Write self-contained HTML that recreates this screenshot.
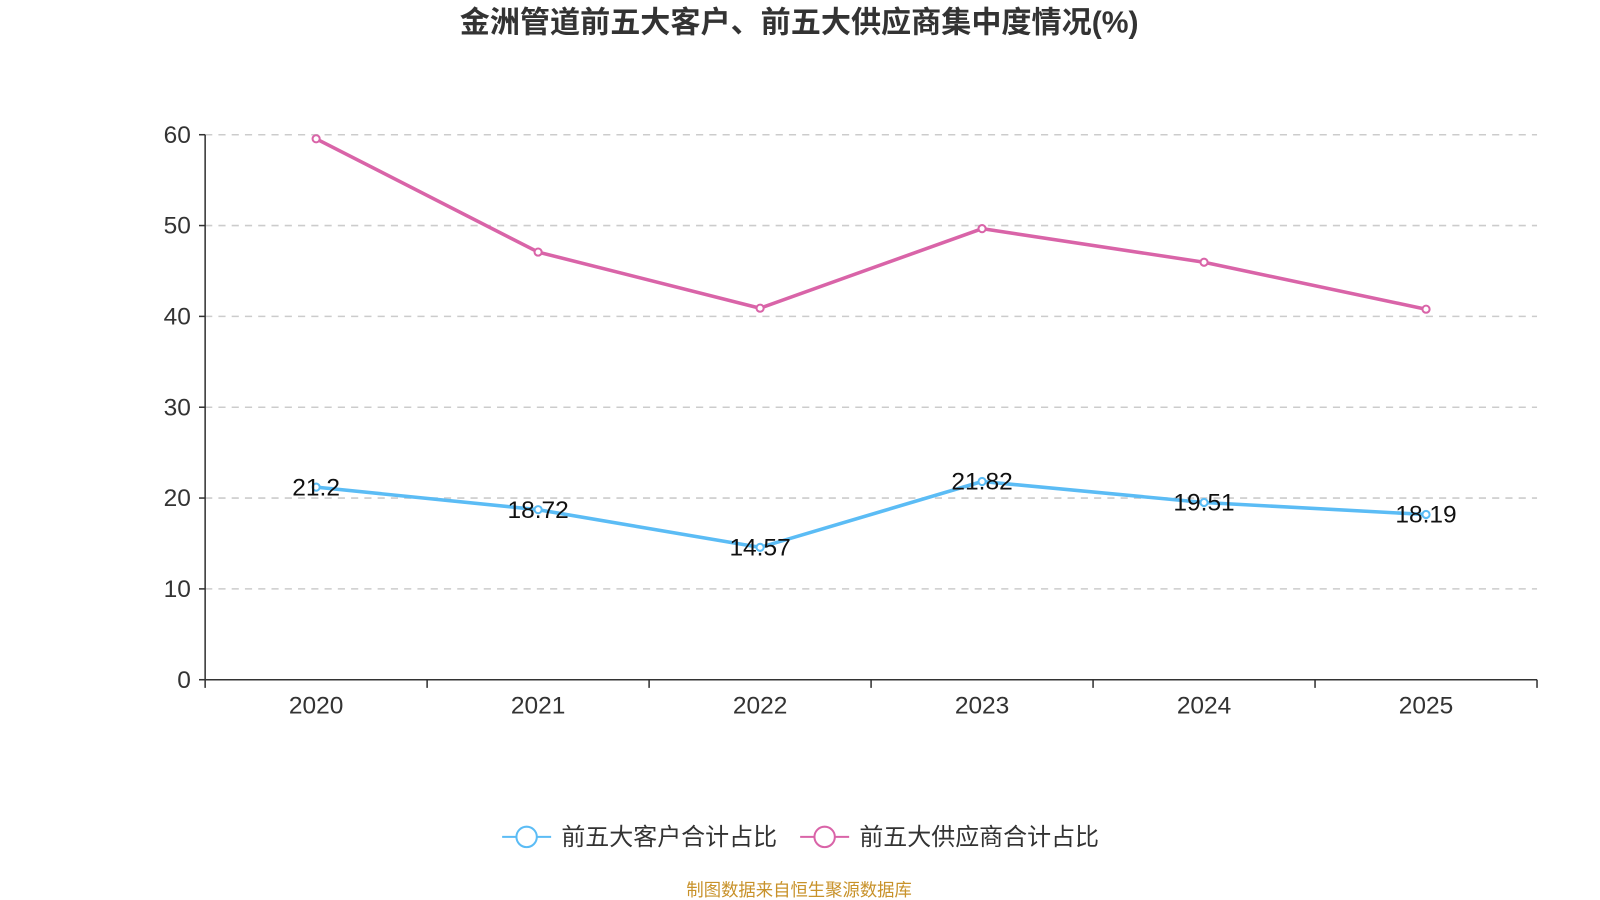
<!DOCTYPE html>
<html><head><meta charset="utf-8">
<style>
html,body{margin:0;padding:0;background:#fff;}
svg{display:block;font-family:"Liberation Sans","Noto Sans CJK SC",sans-serif;}
</style></head>
<body>
<svg id="chart" width="1600" height="900" viewBox="0 0 1600 900">
<g transform="scale(1.0206)">
<text x="783" y="32" text-anchor="middle" font-size="29.5" font-weight="bold" fill="#333">金洲管道前五大客户、前五大供应商集中度情况(%)</text>
<g id="grid"></g>
<g id="axes"></g>
<g id="series"></g>
<g>
<g>
<line x1="492" y1="820" x2="540" y2="820" stroke="#5bbcf5" stroke-width="2"/>
<circle cx="516" cy="820" r="10" fill="#fff" stroke="#5bbcf5" stroke-width="2"/>
<text x="550" y="828" font-size="23.5" fill="#333">前五大客户合计占比</text>
</g>
<g>
<line x1="784" y1="820" x2="832" y2="820" stroke="#d964a8" stroke-width="2"/>
<circle cx="808" cy="820" r="10" fill="#fff" stroke="#d964a8" stroke-width="2"/>
<text x="842" y="828" font-size="23.5" fill="#333">前五大供应商合计占比</text>
</g>
</g>
<text x="783" y="878" text-anchor="middle" font-size="17" fill="#c8922a">制图数据来自恒生聚源数据库</text>
</g>
</svg>
<script>
const categories = ["2020","2021","2022","2023","2024","2025"];
const customers = [21.2, 18.72, 14.57, 21.82, 19.51, 18.19];
const suppliers = [59.55, 47.08, 40.9, 49.66, 45.96, 40.79];
const yTicks = [0,10,20,30,40,50,60];

const NS="http://www.w3.org/2000/svg";
const x0=201,x1=1506,yBase=666,yTop=132,yMax=60;
const band=(x1-x0)/categories.length;
const xPos=i=>x0+band*(i+0.5);
const yPos=v=>yBase-(v/yMax)*(yBase-yTop);
function mk(tag,attrs,parent){const e=document.createElementNS(NS,tag);for(const k in attrs)e.setAttribute(k,attrs[k]);parent.appendChild(e);return e;}
const grid=document.getElementById('grid'),axes=document.getElementById('axes'),series=document.getElementById('series');

yTicks.forEach(t=>{
  const y=yPos(t);
  if(t>0){const g=mk('line',{x1:x0,x2:x1,y1:y,y2:y,stroke:'#ccc','stroke-width':1.5,'stroke-dasharray':'7,6'},grid);
  
  }
  mk('line',{x1:x0-6,x2:x0,y1:y,y2:y,stroke:'#333','stroke-width':1.5},axes);
  const tx=mk('text',{x:x0-14,y:y+8,'text-anchor':'end','font-size':24,fill:'#333'},axes);
  tx.textContent=t;
  
  
});
const ya=mk('line',{x1:x0,x2:x0,y1:yTop,y2:yBase,stroke:'#333','stroke-width':1.5},axes);


const xa=mk('line',{x1:x0,x2:x1,y1:yBase,y2:yBase,stroke:'#333','stroke-width':1.5},axes);


for(let i=0;i<=categories.length;i++){const x=x0+band*i;mk('line',{x1:x,x2:x,y1:yBase,y2:yBase+8,stroke:'#333','stroke-width':1.5},axes);}
categories.forEach((c,i)=>{
  const tx=mk('text',{x:xPos(i),y:699,'text-anchor':'middle','font-size':24,fill:'#333'},axes);
  tx.textContent=c;
  
  
});

function drawSeries(vals,color,name,labels){
  const pts=vals.map((v,i)=>xPos(i)+','+yPos(v)).join(' ');
  const pl=mk('polyline',{points:pts,fill:'none',stroke:color,'stroke-width':3.5,'stroke-linejoin':'round'},series);
  
  
  vals.forEach((v,i)=>{
    const c=mk('circle',{cx:xPos(i),cy:yPos(v),r:3.5,fill:'#fff',stroke:color,'stroke-width':2},series);
    
    
    if(labels){
      const t=mk('text',{x:xPos(i),y:yPos(v)+8,'text-anchor':'middle','font-size':24,fill:'#111'},series);
      t.textContent=String(v);
      
      
    }
  });
}
drawSeries(suppliers,'#d964a8','suppliers',false);
drawSeries(customers,'#5bbcf5','customers',true);
</script>
</body></html>
